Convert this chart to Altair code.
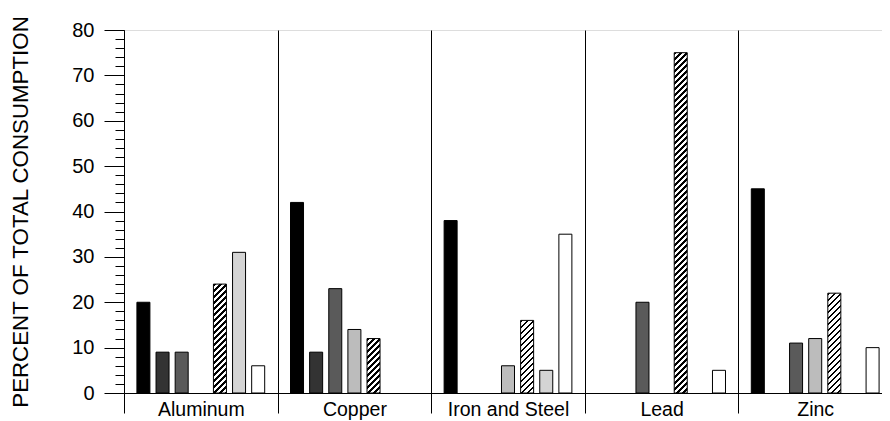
import altair as alt

# ---------------- data ----------------
groups = ["Aluminum", "Copper", "Iron and Steel", "Lead", "Zinc"]
slots = [1, 2, 3, 4, 5, 6, 7]
# one list per bar type, one value per group (None = no bar)
s1_black = [20, 42, 38, None, 45]
s2_dark = [9, 9, None, None, None]
s3_medium = [9, 23, None, 20, 11]
s4_light = [None, 14, 6, None, 12]
s5_hatched = [24, 12, 16, 75, 22]
s6_pale = [31, None, 5, None, None]
s7_white = [6, None, 35, 5, 10]
series = [s1_black, s2_dark, s3_medium, s4_light, s5_hatched, s6_pale, s7_white]
y_ticks = list(range(0, 81, 2))
y_title = "PERCENT OF TOTAL CONSUMPTION"

# ---------------- style ----------------
PLOT_W = 768
PLOT_H = 363
Y_MAX = 80
BAR_W = 13.0
FONT = "Liberation Sans"
solid = {1: "#000000", 2: "#333333", 3: "#5a5a5a", 4: "#bcbcbc",
         6: "#d4d4d4", 7: "#ffffff"}


def hatch(value, period=6.0, ink=0.45):
    """Diagonal '/' hatching as a hard-stop linear gradient (bbox units)."""
    h = value * PLOT_H / Y_MAX
    w = BAR_W
    k = (w + h) * h / (h * h + w * w)
    span = w + h
    stops = []
    n = int(span / period) + 2
    for i in range(n):
        a = min(i * period / span, 1.0)
        b = min((i * period + period * ink) / span, 1.0)
        c = min((i + 1) * period / span, 1.0)
        stops += [{"offset": a, "color": "#000000"},
                  {"offset": b, "color": "#000000"},
                  {"offset": b, "color": "#ffffff"},
                  {"offset": c, "color": "#ffffff"}]
    return {"gradient": "linear", "x1": 0, "y1": 0,
            "x2": k * w / h, "y2": k, "stops": stops}


records = []
for si, vals in zip(slots, series):
    for g, v in zip(groups, vals):
        if v is None:
            continue
        fill = hatch(v) if si == 5 else solid[si]
        records.append({"group": g, "slot": si, "value": v, "fill": fill})

bars = alt.Chart(alt.Data(values=records)).mark_bar(
    stroke="black", strokeWidth=1
).encode(
    x=alt.X(
        "group:N",
        sort=groups,
        scale=alt.Scale(domain=groups, paddingInner=0, paddingOuter=0),
        axis=alt.Axis(
            title=None, tickBand="extent", tickSize=20, tickColor="black",
            domainColor="black", grid=True, gridColor="black", gridOpacity=1,
            labelFontSize=19.5, labelFont=FONT, labelColor="black",
            labelPadding=-13, labelAngle=0,
        ),
    ),
    xOffset=alt.XOffset(
        "slot:O",
        scale=alt.Scale(domain=slots, paddingInner=0.32, paddingOuter=0.675),
    ),
    y=alt.Y(
        "value:Q",
        scale=alt.Scale(domain=[0, Y_MAX], nice=False),
        axis=alt.Axis(
            values=y_ticks,
            title=y_title,
            titleFont=FONT, titleFontSize=22.3, titleFontWeight="normal",
            titleColor="black", titleX=-97, titleBaseline="alphabetic",
            labelExpr="datum.value % 10 === 0 ? datum.label : ''",
            labelFont=FONT, labelFontSize=20, labelColor="black",
            labelPadding=10,
            tickSize={"condition": {"test": "datum.value % 10 === 0", "value": 20},
                      "value": 9},
            tickColor="black", domainColor="black", grid=False,
        ),
    ),
    fill=alt.Fill("fill:N", scale=None),
)

chart = bars.properties(
    width=PLOT_W,
    height=PLOT_H,
    autosize=alt.AutoSizeParams(type="none"),
    padding={"left": 116, "top": 22, "right": -10, "bottom": 27},
).configure_view(stroke="black", strokeWidth=1).configure(background="white")

chart.save("out.html", embed_options={"renderer": "svg", "actions": False})
